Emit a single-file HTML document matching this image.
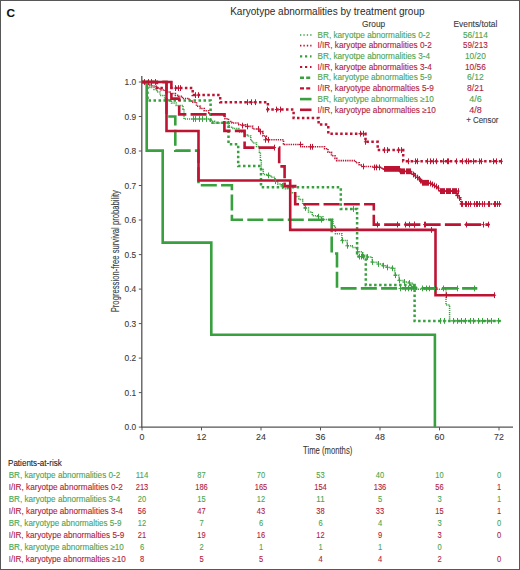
<!DOCTYPE html>
<html><head><meta charset="utf-8"><style>
html,body{margin:0;padding:0;background:#fff;}
body{width:520px;height:570px;overflow:hidden;}
svg{display:block;font-family:"Liberation Sans",sans-serif;}
text{stroke-width:0.1px;paint-order:stroke;}
</style></head><body>
<svg width="520" height="570" viewBox="0 0 520 570">
<rect x="0" y="0" width="520" height="570" fill="#fff"/>
<text x="6.6" y="16.6" font-size="11.8" font-weight="bold" fill="#111" stroke="#111">C</text>
<text x="230.2" y="15.2" font-size="10" fill="#2a2a2a" stroke="#2a2a2a" style="stroke-width:0" textLength="194.4" lengthAdjust="spacingAndGlyphs">Karyotype abnormalities by treatment group</text><text x="362.1" y="27.4" font-size="8.5" fill="#3a3a3a" stroke="#3a3a3a" textLength="23.1" lengthAdjust="spacingAndGlyphs">Group</text><text x="475.4" y="27.4" font-size="8.5" fill="#3a3a3a" stroke="#3a3a3a" text-anchor="middle" textLength="43.7" lengthAdjust="spacingAndGlyphs">Events/total</text><line x1="300" y1="34.9" x2="311.5" y2="34.9" stroke="#38a03e" stroke-width="1.5" stroke-dasharray="1.3 2.1"/><text x="317.5" y="37.6" font-size="8.2" fill="#48a450" stroke="#48a450" textLength="112.5" lengthAdjust="spacingAndGlyphs">BR, karyotpe abnormalities 0-2</text><text x="475.4" y="37.6" font-size="8.5" fill="#48a450" stroke="#48a450" text-anchor="middle" textLength="24.9" lengthAdjust="spacingAndGlyphs">56/114</text><line x1="300" y1="45.6" x2="311.5" y2="45.6" stroke="#bd1434" stroke-width="1.6" stroke-dasharray="1.4 2.0"/><text x="317.5" y="48.3" font-size="8.2" fill="#b01a3a" stroke="#b01a3a" textLength="114.3" lengthAdjust="spacingAndGlyphs">I/IR, karyotpe abnormalities 0-2</text><text x="475.4" y="48.3" font-size="8.5" fill="#b01a3a" stroke="#b01a3a" text-anchor="middle" textLength="24.9" lengthAdjust="spacingAndGlyphs">59/213</text><line x1="300" y1="56.3" x2="311.5" y2="56.3" stroke="#38a03e" stroke-width="2.2" stroke-dasharray="2.2 2.8"/><text x="317.5" y="59.0" font-size="8.2" fill="#48a450" stroke="#48a450" textLength="112.5" lengthAdjust="spacingAndGlyphs">BR, karyotpe abnormalities 3-4</text><text x="475.4" y="59.0" font-size="8.5" fill="#48a450" stroke="#48a450" text-anchor="middle" textLength="20.8" lengthAdjust="spacingAndGlyphs">10/20</text><line x1="300" y1="67.0" x2="311.5" y2="67.0" stroke="#bd1434" stroke-width="2.2" stroke-dasharray="2.2 2.8"/><text x="317.5" y="69.7" font-size="8.2" fill="#b01a3a" stroke="#b01a3a" textLength="114.3" lengthAdjust="spacingAndGlyphs">I/IR, karyotpe abnormalities 3-4</text><text x="475.4" y="69.7" font-size="8.5" fill="#b01a3a" stroke="#b01a3a" text-anchor="middle" textLength="20.8" lengthAdjust="spacingAndGlyphs">10/56</text><line x1="300" y1="77.7" x2="311.5" y2="77.7" stroke="#38a03e" stroke-width="2.4" stroke-dasharray="4 2.2"/><text x="317.5" y="80.4" font-size="8.2" fill="#48a450" stroke="#48a450" textLength="114.3" lengthAdjust="spacingAndGlyphs">BR, karyotype abnormalties 5-9</text><text x="475.4" y="80.4" font-size="8.5" fill="#48a450" stroke="#48a450" text-anchor="middle" textLength="16.6" lengthAdjust="spacingAndGlyphs">6/12</text><line x1="300" y1="88.4" x2="311.5" y2="88.4" stroke="#bd1434" stroke-width="2.4" stroke-dasharray="4 2.2"/><text x="317.5" y="91.1" font-size="8.2" fill="#b01a3a" stroke="#b01a3a" textLength="116.3" lengthAdjust="spacingAndGlyphs">I/IR, karyotype abnormalties 5-9</text><text x="475.4" y="91.1" font-size="8.5" fill="#b01a3a" stroke="#b01a3a" text-anchor="middle" textLength="16.6" lengthAdjust="spacingAndGlyphs">8/21</text><line x1="300" y1="99.1" x2="311.5" y2="99.1" stroke="#38a03e" stroke-width="2.6"/><text x="317.5" y="101.8" font-size="8.2" fill="#48a450" stroke="#48a450" textLength="116.3" lengthAdjust="spacingAndGlyphs">BR, karyotype abnormalties ≥10</text><text x="475.4" y="101.8" font-size="8.5" fill="#48a450" stroke="#48a450" text-anchor="middle" textLength="12.5" lengthAdjust="spacingAndGlyphs">4/6</text><line x1="300" y1="109.8" x2="311.5" y2="109.8" stroke="#bd1434" stroke-width="2.6"/><text x="317.5" y="112.5" font-size="8.2" fill="#b01a3a" stroke="#b01a3a" textLength="118.4" lengthAdjust="spacingAndGlyphs">I/IR, karyotype abnormalties ≥10</text><text x="475.4" y="112.5" font-size="8.5" fill="#b01a3a" stroke="#b01a3a" text-anchor="middle" textLength="12.5" lengthAdjust="spacingAndGlyphs">4/8</text><text x="466.2" y="122.5" font-size="8.5" fill="#3a3a3a" stroke="#3a3a3a" textLength="32.3" lengthAdjust="spacingAndGlyphs">+ Censor</text>
<line x1="141.8" y1="76" x2="141.8" y2="427.6" stroke="#555555" stroke-width="1.3"/><line x1="141.2" y1="427.1" x2="513" y2="427.1" stroke="#555555" stroke-width="1.3"/><line x1="138.8" y1="427.1" x2="141.8" y2="427.1" stroke="#555555" stroke-width="1"/><text x="136.2" y="430.2" text-anchor="end" font-size="8.8" fill="#3a3a3a" stroke="#3a3a3a" textLength="11.6" lengthAdjust="spacingAndGlyphs">0.0</text><line x1="138.8" y1="392.6" x2="141.8" y2="392.6" stroke="#555555" stroke-width="1"/><text x="136.2" y="395.7" text-anchor="end" font-size="8.8" fill="#3a3a3a" stroke="#3a3a3a" textLength="11.6" lengthAdjust="spacingAndGlyphs">0.1</text><line x1="138.8" y1="358.1" x2="141.8" y2="358.1" stroke="#555555" stroke-width="1"/><text x="136.2" y="361.2" text-anchor="end" font-size="8.8" fill="#3a3a3a" stroke="#3a3a3a" textLength="11.6" lengthAdjust="spacingAndGlyphs">0.2</text><line x1="138.8" y1="323.6" x2="141.8" y2="323.6" stroke="#555555" stroke-width="1"/><text x="136.2" y="326.7" text-anchor="end" font-size="8.8" fill="#3a3a3a" stroke="#3a3a3a" textLength="11.6" lengthAdjust="spacingAndGlyphs">0.3</text><line x1="138.8" y1="289.1" x2="141.8" y2="289.1" stroke="#555555" stroke-width="1"/><text x="136.2" y="292.2" text-anchor="end" font-size="8.8" fill="#3a3a3a" stroke="#3a3a3a" textLength="11.6" lengthAdjust="spacingAndGlyphs">0.4</text><line x1="138.8" y1="254.6" x2="141.8" y2="254.6" stroke="#555555" stroke-width="1"/><text x="136.2" y="257.7" text-anchor="end" font-size="8.8" fill="#3a3a3a" stroke="#3a3a3a" textLength="11.6" lengthAdjust="spacingAndGlyphs">0.5</text><line x1="138.8" y1="220.0" x2="141.8" y2="220.0" stroke="#555555" stroke-width="1"/><text x="136.2" y="223.1" text-anchor="end" font-size="8.8" fill="#3a3a3a" stroke="#3a3a3a" textLength="11.6" lengthAdjust="spacingAndGlyphs">0.6</text><line x1="138.8" y1="185.5" x2="141.8" y2="185.5" stroke="#555555" stroke-width="1"/><text x="136.2" y="188.6" text-anchor="end" font-size="8.8" fill="#3a3a3a" stroke="#3a3a3a" textLength="11.6" lengthAdjust="spacingAndGlyphs">0.7</text><line x1="138.8" y1="151.0" x2="141.8" y2="151.0" stroke="#555555" stroke-width="1"/><text x="136.2" y="154.1" text-anchor="end" font-size="8.8" fill="#3a3a3a" stroke="#3a3a3a" textLength="11.6" lengthAdjust="spacingAndGlyphs">0.8</text><line x1="138.8" y1="116.5" x2="141.8" y2="116.5" stroke="#555555" stroke-width="1"/><text x="136.2" y="119.6" text-anchor="end" font-size="8.8" fill="#3a3a3a" stroke="#3a3a3a" textLength="11.6" lengthAdjust="spacingAndGlyphs">0.9</text><line x1="138.8" y1="82.0" x2="141.8" y2="82.0" stroke="#555555" stroke-width="1"/><text x="136.2" y="85.1" text-anchor="end" font-size="8.8" fill="#3a3a3a" stroke="#3a3a3a" textLength="11.6" lengthAdjust="spacingAndGlyphs">1.0</text><line x1="142.0" y1="427.1" x2="142.0" y2="430.4" stroke="#555555" stroke-width="1"/><text x="142.0" y="440" text-anchor="middle" font-size="8.8" fill="#3a3a3a" stroke="#3a3a3a">0</text><line x1="201.5" y1="427.1" x2="201.5" y2="430.4" stroke="#555555" stroke-width="1"/><text x="201.5" y="440" text-anchor="middle" font-size="8.8" fill="#3a3a3a" stroke="#3a3a3a">12</text><line x1="261.0" y1="427.1" x2="261.0" y2="430.4" stroke="#555555" stroke-width="1"/><text x="261.0" y="440" text-anchor="middle" font-size="8.8" fill="#3a3a3a" stroke="#3a3a3a">24</text><line x1="320.5" y1="427.1" x2="320.5" y2="430.4" stroke="#555555" stroke-width="1"/><text x="320.5" y="440" text-anchor="middle" font-size="8.8" fill="#3a3a3a" stroke="#3a3a3a">36</text><line x1="380.0" y1="427.1" x2="380.0" y2="430.4" stroke="#555555" stroke-width="1"/><text x="380.0" y="440" text-anchor="middle" font-size="8.8" fill="#3a3a3a" stroke="#3a3a3a">48</text><line x1="439.5" y1="427.1" x2="439.5" y2="430.4" stroke="#555555" stroke-width="1"/><text x="439.5" y="440" text-anchor="middle" font-size="8.8" fill="#3a3a3a" stroke="#3a3a3a">60</text><line x1="499.0" y1="427.1" x2="499.0" y2="430.4" stroke="#555555" stroke-width="1"/><text x="499.0" y="440" text-anchor="middle" font-size="8.8" fill="#3a3a3a" stroke="#3a3a3a">72</text><text x="327.7" y="453.5" text-anchor="middle" font-size="10" fill="#3a3a3a" stroke="#3a3a3a" textLength="49.2" lengthAdjust="spacingAndGlyphs">Time (months)</text><text transform="translate(118.8,251.2) rotate(-90)" text-anchor="middle" font-size="10" fill="#3a3a3a" stroke="#3a3a3a" textLength="122.3" lengthAdjust="spacingAndGlyphs">Progression-free survival probability</text>
<polyline points="142.0,82.0 146.0,82.0 146.0,83.0 149.0,83.0 149.0,84.5 152.0,84.5 152.0,86.0 156.0,86.0 156.0,88.0 160.0,88.0 160.0,90.0 165.0,90.0 165.0,92.0 170.0,92.0 170.0,93.5 175.4,93.5 175.4,95.4 178.5,95.4 178.5,96.2 182.3,96.2 182.3,98.5 189.2,98.5 189.2,100.8 191.8,100.8 191.8,102.3 196.5,102.3 196.5,106.2 200.3,106.2 200.3,108.5 204.2,108.5 204.2,110.8 208.8,110.8 208.8,113.0 210.0,113.0 210.0,114.2 223.8,114.2 223.8,114.4 225.0,114.4 225.0,118.7 228.5,118.7 228.5,121.5 232.0,121.5 232.0,123.0 238.8,123.0 238.8,124.7 245.7,124.7 245.7,126.4 252.7,126.4 252.7,129.0 259.6,129.0 259.6,131.6 263.0,131.6 263.0,136.0 266.3,136.0 266.3,139.8 281.5,139.8 281.5,139.8 283.5,139.8 283.5,143.7 284.5,143.7 284.5,144.5 302.0,144.5 302.0,144.5 302.5,144.5 302.5,146.8 322.9,146.8 322.9,146.8 324.6,146.8 324.6,148.8 328.0,148.8 328.0,152.3 331.5,152.3 331.5,155.8 335.0,155.8 335.0,158.4 336.7,158.4 336.7,160.6 354.0,160.6 354.0,160.6 355.7,160.6 355.7,162.7 359.2,162.7 359.2,164.8 361.0,164.8 361.0,166.5 380.0,166.5 380.0,167.4 382.0,167.4 382.0,169.2 399.0,169.2 399.0,169.2 399.5,169.2 399.5,172.1 410.4,172.1 410.4,172.1 411.7,172.1 411.7,173.5 414.4,173.5 414.4,176.5 418.5,176.5 418.5,179.5 421.5,179.5 421.5,182.5 428.5,182.5 428.5,183.0 431.9,183.0 431.9,184.5 434.6,184.5 434.6,186.0 436.0,186.0 436.0,187.5 438.5,187.5 438.5,189.0 439.0,189.0 439.0,191.1 456.2,191.1 456.2,191.1 456.5,191.1 456.5,195.4 459.2,195.4 459.2,197.7 460.8,197.7 460.8,201.5 461.0,201.5 461.0,204.0 502.0,204.0 502.0,204.0" fill="none" stroke="#bd1434" stroke-width="1.6" stroke-dasharray="1.3 0.9" stroke-linejoin="miter" stroke-linecap="butt" />
<polyline points="142.0,82.0 144.0,82.0 144.0,83.5 147.0,83.5 147.0,85.5 150.0,85.5 150.0,87.5 154.0,87.5 154.0,89.5 157.0,89.5 157.0,92.0 160.0,92.0 160.0,95.4 164.6,95.4 164.6,100.0 171.5,100.0 171.5,103.0 176.2,103.0 176.2,105.4 183.0,105.4 183.0,109.2 184.0,109.2 184.0,119.0 207.7,119.0 207.7,119.0 210.3,119.0 210.3,121.2 214.6,121.2 214.6,123.0 228.4,123.0 228.4,123.8 229.3,123.8 229.3,127.3 233.0,127.3 233.0,128.5 238.8,128.5 238.8,132.0 244.6,132.0 244.6,135.0 247.5,135.0 247.5,136.0 250.8,136.0 250.8,140.8 252.7,140.8 252.7,142.9 256.5,142.9 256.5,146.5 259.4,146.5 259.4,152.3 260.4,152.3 260.4,160.0 261.3,160.0 261.3,169.6 263.3,169.6 263.3,174.4 268.0,174.4 268.0,175.4 271.0,175.4 271.0,177.3 274.8,177.3 274.8,181.2 277.7,181.2 277.7,184.0 281.5,184.0 281.5,186.0 285.4,186.0 285.4,188.8 290.2,188.8 290.2,192.7 295.0,192.7 295.0,196.5 298.8,196.5 298.8,199.4 302.7,199.4 302.7,204.2 304.6,204.2 304.6,208.0 308.5,208.0 308.5,212.0 312.3,212.0 312.3,215.8 318.0,215.8 318.0,216.7 322.9,216.7 322.9,219.6 330.0,219.6 330.0,219.6 333.0,219.6 333.0,226.0 335.4,226.0 335.4,233.7 341.9,233.7 341.9,240.6 347.1,240.6 347.1,245.8 352.3,245.8 352.3,247.5 357.5,247.5 357.5,251.8 362.7,251.8 362.7,255.3 367.0,255.3 367.0,257.0 372.2,257.0 372.2,262.2 378.3,262.2 378.3,264.0 382.6,264.0 382.6,265.7 386.9,265.7 386.9,267.4 392.1,267.4 392.1,268.3 394.7,268.3 394.7,275.2 399.0,275.2 399.0,280.4 404.2,280.4 404.2,282.1 409.4,282.1 409.4,283.0 412.9,283.0 412.9,287.3 416.3,287.3 416.3,289.2 445.8,289.2 445.8,289.2 446.0,289.2 446.0,304.9 449.6,304.9 449.6,305.0 449.6,305.0 449.6,320.8 500.8,320.8 500.8,320.8" fill="none" stroke="#38a03e" stroke-width="1.5" stroke-dasharray="1.2 0.9" stroke-linejoin="miter" stroke-linecap="butt" />
<polyline points="142.0,82.0 147.5,82.0 147.5,100.5 210.6,100.5 210.6,122.7 228.5,122.7 228.5,144.2 238.2,144.2 238.2,166.0 261.0,166.0 261.0,187.3 340.8,187.3 340.8,209.0 357.1,209.0 357.1,256.6 365.8,256.6 365.8,284.9 414.6,284.9 414.6,320.9 501.5,320.9" fill="none" stroke="#38a03e" stroke-width="2.5" stroke-dasharray="2.5 2.5" stroke-linejoin="miter" stroke-linecap="butt" />
<polyline points="142.0,82.0 157.0,82.0 157.0,88.1 192.7,88.1 192.7,95.1 220.2,95.1 220.2,102.2 267.9,102.2 267.9,109.5 293.6,109.5 293.6,118.1 318.6,118.1 318.6,124.6 328.3,124.6 328.3,133.7 365.5,133.7 365.5,141.8 377.7,141.8 377.7,150.1 403.2,150.1 403.2,161.3 502.4,161.3" fill="none" stroke="#bd1434" stroke-width="2.5" stroke-dasharray="2.5 2.4" stroke-linejoin="miter" stroke-linecap="butt" />
<polyline points="142.0,82.0 166.5,82.0 166.5,116.5 175.3,116.5 175.3,150.6 198.5,150.6 198.5,185.2 231.9,185.2 231.9,219.7 331.7,219.7 331.7,253.5 337.0,253.5 337.0,288.4 477.3,288.4" fill="none" stroke="#38a03e" stroke-width="2.6" stroke-dasharray="16 4.25" stroke-linejoin="miter" stroke-linecap="butt" />
<polyline points="142.0,82.0 171.4,82.0 171.4,98.6 179.2,98.6 179.2,114.4 224.4,114.4 224.4,130.9 244.6,130.9 244.6,147.6 279.2,147.6 279.2,166.4 284.6,166.4 284.6,186.1 295.2,186.1 295.2,204.2 373.8,204.2 373.8,224.6 489.3,224.6" fill="none" stroke="#bd1434" stroke-width="2.6" stroke-dasharray="16 4.25" stroke-linejoin="miter" stroke-linecap="butt" />
<polyline points="142.0,82.0 146.7,82.0 146.7,150.6 162.7,150.6 162.7,242.6 211.3,242.6 211.3,334.8 434.9,334.8 434.9,427.0" fill="none" stroke="#38a03e" stroke-width="2.6" stroke-linejoin="miter" stroke-linecap="butt" />
<polyline points="142.0,82.0 166.5,82.0 166.5,131.0 198.5,131.0 198.5,180.5 290.2,180.5 290.2,229.9 435.5,229.9 435.5,295.2 494.6,295.2" fill="none" stroke="#bd1434" stroke-width="2.6" stroke-linejoin="miter" stroke-linecap="butt" />
<path d="M144.5 79.1V84.9M142.9 82.0H146.3M148.5 79.1V84.9M147.0 82.0H150.4M151.5 79.1V84.9M149.8 82.0H153.2M155.5 79.1V84.9M153.3 82.0H156.7M175.5 85.2V91.0M173.8 88.1H177.2M178.5 85.2V91.0M176.6 88.1H180.0M180.5 85.2V91.0M178.7 88.1H182.1M195.5 92.2V98.0M193.6 95.1H197.0M198.5 92.2V98.0M197.0 95.1H200.4M247.5 99.3V105.1M246.0 102.2H249.4M251.5 99.3V105.1M249.8 102.2H253.2M255.5 99.3V105.1M253.3 102.2H256.7M267.5 106.6V112.4M266.2 109.5H269.6M276.5 106.6V112.4M274.8 109.5H278.2M280.5 106.6V112.4M278.7 109.5H282.1M360.5 130.8V136.6M358.5 133.7H361.9M363.5 130.8V136.6M361.9 133.7H365.3M365.5 138.9V144.7M363.9 141.8H367.3M384.5 147.2V153.0M382.7 150.1H386.1M387.5 147.2V153.0M386.1 150.1H389.5M398.5 147.2V153.0M396.5 150.1H399.9M401.5 147.2V153.0M399.6 150.1H403.0M408.5 158.4V164.2M406.4 161.3H409.8M415.5 158.4V164.2M413.3 161.3H416.7M417.5 158.4V164.2M416.2 161.3H419.6M427.5 158.4V164.2M426.0 161.3H429.4M430.5 158.4V164.2M429.1 161.3H432.5M433.5 158.4V164.2M431.8 161.3H435.2M436.5 158.4V164.2M435.2 161.3H438.6M443.5 158.4V164.2M442.1 161.3H445.5M447.5 158.4V164.2M445.7 161.3H449.1M448.5 158.4V164.2M446.8 161.3H450.2M456.5 158.4V164.2M454.5 161.3H457.9M462.5 158.4V164.2M460.5 161.3H463.9M466.5 158.4V164.2M465.2 161.3H468.6M468.5 158.4V164.2M467.2 161.3H470.6M473.5 158.4V164.2M471.9 161.3H475.3M479.5 158.4V164.2M477.3 161.3H480.7M481.5 158.4V164.2M480.0 161.3H483.4M493.5 158.4V164.2M491.5 161.3H494.9M496.5 158.4V164.2M494.8 161.3H498.2M501.5 158.4V164.2M499.5 161.3H502.9M242.5 122.7V128.5M241.2 125.6H244.6M247.5 123.5V129.3M246.0 126.4H249.4M258.5 126.1V131.9M256.6 129.0H260.0M260.5 128.7V134.5M258.5 131.6H261.9M265.5 136.9V142.7M263.3 139.8H266.7M268.5 136.9V142.7M266.3 139.8H269.7M300.5 141.6V147.4M298.7 144.5H302.1M310.5 143.9V149.7M309.1 146.8H312.5M312.5 143.9V149.7M310.8 146.8H314.2M363.5 163.6V169.4M361.8 166.5H365.2M374.5 164.5V170.3M372.3 167.4H375.7M376.5 164.5V170.3M375.0 167.4H378.4M379.5 164.5V170.3M377.7 167.4H381.1M384.5 166.0V171.8M382.5 168.9H385.9M385.5 166.0V171.8M383.5 168.9H386.9M386.5 166.0V171.8M384.5 168.9H387.9M387.5 166.0V171.8M385.5 168.9H388.9M388.5 166.0V171.8M386.5 168.9H389.9M389.5 166.0V171.8M387.5 168.9H390.9M390.5 166.0V171.8M388.5 168.9H391.9M391.5 166.0V171.8M389.5 168.9H392.9M392.5 166.0V171.8M390.5 168.9H393.9M393.5 166.0V171.8M391.5 168.9H394.9M394.5 166.0V171.8M392.5 168.9H395.9M395.5 166.0V171.8M393.5 168.9H396.9M396.5 166.0V171.8M394.5 168.9H397.9M397.5 166.0V171.8M395.5 168.9H398.9M398.5 166.0V171.8M396.5 168.9H399.9M399.5 166.0V171.8M397.5 168.9H400.9M400.5 168.4V174.2M398.8 171.3H402.2M401.5 168.4V174.2M399.9 171.3H403.3M402.5 168.4V174.2M401.0 171.3H404.4M403.5 168.4V174.2M402.1 171.3H405.5M404.5 168.4V174.2M403.2 171.3H406.6M406.5 168.4V174.2M404.3 171.3H407.7M407.5 168.4V174.2M405.4 171.3H408.8M408.5 168.4V174.2M406.5 171.3H409.9M409.5 168.4V174.2M407.6 171.3H411.0M410.5 168.4V174.2M408.7 171.3H412.1M413.5 171.6V177.4M411.3 174.5H414.7M415.5 173.1V178.9M413.3 176.0H416.7M417.5 174.6V180.4M415.3 177.5H418.7M419.5 176.1V181.9M417.3 179.0H420.7M420.5 177.6V183.4M418.8 180.5H422.2M422.5 179.9V185.7M420.3 182.8H423.7M423.5 179.9V185.7M421.3 182.8H424.7M424.5 179.9V185.7M422.3 182.8H425.7M425.5 179.9V185.7M423.3 182.8H426.7M426.5 179.9V185.7M424.3 182.8H427.7M427.5 179.9V185.7M425.3 182.8H428.7M428.5 179.9V185.7M426.3 182.8H429.7M430.5 180.6V186.4M428.3 183.5H431.7M432.5 181.6V187.4M430.3 184.5H433.7M434.5 182.6V188.4M432.3 185.5H435.7M436.5 183.6V189.4M434.3 186.5H437.7M438.5 185.1V190.9M436.3 188.0H439.7M440.5 188.2V194.0M438.3 191.1H441.7M441.5 188.2V194.0M439.5 191.1H442.9M442.5 188.2V194.0M440.7 191.1H444.1M443.5 188.2V194.0M441.9 191.1H445.3M444.5 188.2V194.0M443.1 191.1H446.5M446.5 188.2V194.0M444.3 191.1H447.7M447.5 188.2V194.0M445.5 191.1H448.9M448.5 188.2V194.0M446.7 191.1H450.1M449.5 188.2V194.0M447.9 191.1H451.3M450.5 188.2V194.0M449.1 191.1H452.5M452.5 188.2V194.0M450.3 191.1H453.7M453.5 188.2V194.0M451.5 191.1H454.9M454.5 188.2V194.0M452.7 191.1H456.1M455.5 188.2V194.0M453.9 191.1H457.3M456.5 188.2V194.0M455.1 191.1H458.5M458.5 188.2V194.0M456.3 191.1H459.7M457.5 192.5V198.3M455.3 195.4H458.7M459.5 195.1V200.9M457.5 198.0H460.9M461.5 201.1V206.9M459.6 204.0H463.0M462.5 201.1V206.9M461.2 204.0H464.6M465.5 201.1V206.9M463.3 204.0H466.7M466.5 201.1V206.9M464.9 204.0H468.3M468.5 201.1V206.9M467.1 204.0H470.5M470.5 201.1V206.9M469.2 204.0H472.6M474.5 201.1V206.9M472.9 204.0H476.3M476.5 201.1V206.9M474.5 204.0H477.9M477.5 201.1V206.9M476.1 204.0H479.5M479.5 201.1V206.9M478.2 204.0H481.6M482.5 201.1V206.9M480.3 204.0H483.7M484.5 201.1V206.9M482.4 204.0H485.8M488.5 201.1V206.9M486.6 204.0H490.0M489.5 201.1V206.9M488.2 204.0H491.6M494.5 201.1V206.9M492.5 204.0H495.9M495.5 201.1V206.9M494.0 204.0H497.4M497.5 201.1V206.9M495.6 204.0H499.0M499.5 201.1V206.9M497.7 204.0H501.1M274.5 144.7V150.5M272.7 147.6H276.1M377.5 221.7V227.5M375.3 224.6H378.7M397.5 221.7V227.5M395.4 224.6H398.8M405.5 221.7V227.5M403.9 224.6H407.3M409.5 221.7V227.5M408.1 224.6H411.5M414.5 221.7V227.5M412.3 224.6H415.7M414.5 221.7V227.5M412.5 224.6H415.9M424.5 221.7V227.5M423.1 224.6H426.5M425.5 221.7V227.5M424.0 224.6H427.4M466.5 221.7V227.5M464.3 224.6H467.7M483.5 221.7V227.5M481.3 224.6H484.7M488.5 221.7V227.5M486.6 224.6H490.0M431.5 227.0V232.8M429.3 229.9H432.7M446.5 292.3V298.1M444.3 295.2H447.7M494.5 292.3V298.1M492.7 295.2H496.1" stroke="#bd1434" stroke-width="1.0" fill="none"/>
<path d="M193.5 116.1V121.9M191.3 119.0H194.7M195.5 116.1V121.9M193.9 119.0H197.3M199.5 116.1V121.9M197.3 119.0H200.7M202.5 116.1V121.9M200.8 119.0H204.2M206.5 116.1V121.9M204.3 119.0H207.7M268.5 172.5V178.3M266.3 175.4H269.7M275.5 178.3V184.1M273.3 181.2H276.7M282.5 183.1V188.9M280.3 186.0H283.7M305.5 205.1V210.9M303.3 208.0H306.7M318.5 213.8V219.6M316.3 216.7H319.7M321.5 216.8V222.6M319.8 219.7H323.2M342.5 237.7V243.5M340.3 240.6H343.7M347.5 242.9V248.7M345.3 245.8H348.7M357.5 248.9V254.7M355.8 251.8H359.2M362.5 252.4V258.2M361.0 255.3H364.4M367.5 254.1V259.9M365.3 257.0H368.7M372.5 259.1V264.9M370.3 262.0H373.7M378.5 261.1V266.9M376.3 264.0H379.7M383.5 262.8V268.6M381.3 265.7H384.7M387.5 264.5V270.3M385.3 267.4H388.7M392.5 265.4V271.2M390.3 268.3H393.7M395.5 272.3V278.1M393.3 275.2H396.7M399.5 277.5V283.3M397.3 280.4H400.7M404.5 279.1V284.9M402.3 282.0H405.7M409.5 280.1V285.9M407.3 283.0H410.7M413.5 284.1V289.9M411.3 287.0H414.7M353.5 206.1V211.9M352.0 209.0H355.4M359.5 253.7V259.5M357.3 256.6H360.7M361.5 253.7V259.5M359.3 256.6H362.7M363.5 253.7V259.5M361.3 256.6H364.7M400.5 285.5V291.3M398.6 288.4H402.0M405.5 285.5V291.3M403.9 288.4H407.3M408.5 285.5V291.3M407.1 288.4H410.5M411.5 285.5V291.3M410.2 288.4H413.6M422.5 285.5V291.3M420.8 288.4H424.2M426.5 285.5V291.3M425.0 288.4H428.4M429.5 285.5V291.3M428.2 288.4H431.6M434.5 285.5V291.3M432.4 288.4H435.8M443.5 285.5V291.3M442.0 288.4H445.4M457.5 285.5V291.3M455.7 288.4H459.1M474.5 285.5V291.3M472.6 288.4H476.0M440.5 318.0V323.8M438.8 320.9H442.2M444.5 318.0V323.8M443.0 320.9H446.4M453.5 318.0V323.8M451.5 320.9H454.9M457.5 318.0V323.8M455.7 320.9H459.1M461.5 318.0V323.8M459.9 320.9H463.3M465.5 318.0V323.8M464.2 320.9H467.6M470.5 318.0V323.8M468.4 320.9H471.8M473.5 318.0V323.8M471.6 320.9H475.0M478.5 318.0V323.8M476.9 320.9H480.3M482.5 318.0V323.8M481.1 320.9H484.5M487.5 318.0V323.8M485.3 320.9H488.7M491.5 318.0V323.8M489.6 320.9H493.0M498.5 318.0V323.8M497.0 320.9H500.4" stroke="#38a03e" stroke-width="1.0" fill="none"/>

<text x="8" y="466" font-size="8.7" fill="#222" stroke="#222" textLength="53.8" lengthAdjust="spacingAndGlyphs">Patients-at-risk</text><text x="8.7" y="477.8" font-size="8.2" fill="#48a450" stroke="#48a450" textLength="111.5" lengthAdjust="spacingAndGlyphs">BR, karyotpe abnormalities 0-2</text><text x="142.0" y="477.8" font-size="8.5" fill="#48a450" stroke="#48a450" text-anchor="middle" textLength="12.5" lengthAdjust="spacingAndGlyphs">114</text><text x="201.5" y="477.8" font-size="8.5" fill="#48a450" stroke="#48a450" text-anchor="middle" textLength="8.3" lengthAdjust="spacingAndGlyphs">87</text><text x="261.0" y="477.8" font-size="8.5" fill="#48a450" stroke="#48a450" text-anchor="middle" textLength="8.3" lengthAdjust="spacingAndGlyphs">70</text><text x="320.5" y="477.8" font-size="8.5" fill="#48a450" stroke="#48a450" text-anchor="middle" textLength="8.3" lengthAdjust="spacingAndGlyphs">53</text><text x="380.0" y="477.8" font-size="8.5" fill="#48a450" stroke="#48a450" text-anchor="middle" textLength="8.3" lengthAdjust="spacingAndGlyphs">40</text><text x="439.5" y="477.8" font-size="8.5" fill="#48a450" stroke="#48a450" text-anchor="middle" textLength="8.3" lengthAdjust="spacingAndGlyphs">10</text><text x="499.0" y="477.8" font-size="8.5" fill="#48a450" stroke="#48a450" text-anchor="middle" textLength="4.2" lengthAdjust="spacingAndGlyphs">0</text><text x="8.7" y="489.8" font-size="8.2" fill="#b01a3a" stroke="#b01a3a" textLength="114.1" lengthAdjust="spacingAndGlyphs">I/IR, karyotpe abnormalities 0-2</text><text x="142.0" y="489.8" font-size="8.5" fill="#b01a3a" stroke="#b01a3a" text-anchor="middle" textLength="12.5" lengthAdjust="spacingAndGlyphs">213</text><text x="201.5" y="489.8" font-size="8.5" fill="#b01a3a" stroke="#b01a3a" text-anchor="middle" textLength="12.5" lengthAdjust="spacingAndGlyphs">186</text><text x="261.0" y="489.8" font-size="8.5" fill="#b01a3a" stroke="#b01a3a" text-anchor="middle" textLength="12.5" lengthAdjust="spacingAndGlyphs">165</text><text x="320.5" y="489.8" font-size="8.5" fill="#b01a3a" stroke="#b01a3a" text-anchor="middle" textLength="12.5" lengthAdjust="spacingAndGlyphs">154</text><text x="380.0" y="489.8" font-size="8.5" fill="#b01a3a" stroke="#b01a3a" text-anchor="middle" textLength="12.5" lengthAdjust="spacingAndGlyphs">136</text><text x="439.5" y="489.8" font-size="8.5" fill="#b01a3a" stroke="#b01a3a" text-anchor="middle" textLength="8.3" lengthAdjust="spacingAndGlyphs">56</text><text x="499.0" y="489.8" font-size="8.5" fill="#b01a3a" stroke="#b01a3a" text-anchor="middle" textLength="4.2" lengthAdjust="spacingAndGlyphs">1</text><text x="8.7" y="501.8" font-size="8.2" fill="#48a450" stroke="#48a450" textLength="111.5" lengthAdjust="spacingAndGlyphs">BR, karyotpe abnormalities 3-4</text><text x="142.0" y="501.8" font-size="8.5" fill="#48a450" stroke="#48a450" text-anchor="middle" textLength="8.3" lengthAdjust="spacingAndGlyphs">20</text><text x="201.5" y="501.8" font-size="8.5" fill="#48a450" stroke="#48a450" text-anchor="middle" textLength="8.3" lengthAdjust="spacingAndGlyphs">15</text><text x="261.0" y="501.8" font-size="8.5" fill="#48a450" stroke="#48a450" text-anchor="middle" textLength="8.3" lengthAdjust="spacingAndGlyphs">12</text><text x="320.5" y="501.8" font-size="8.5" fill="#48a450" stroke="#48a450" text-anchor="middle" textLength="8.3" lengthAdjust="spacingAndGlyphs">11</text><text x="380.0" y="501.8" font-size="8.5" fill="#48a450" stroke="#48a450" text-anchor="middle" textLength="4.2" lengthAdjust="spacingAndGlyphs">5</text><text x="439.5" y="501.8" font-size="8.5" fill="#48a450" stroke="#48a450" text-anchor="middle" textLength="4.2" lengthAdjust="spacingAndGlyphs">3</text><text x="499.0" y="501.8" font-size="8.5" fill="#48a450" stroke="#48a450" text-anchor="middle" textLength="4.2" lengthAdjust="spacingAndGlyphs">1</text><text x="8.7" y="513.8" font-size="8.2" fill="#b01a3a" stroke="#b01a3a" textLength="114.1" lengthAdjust="spacingAndGlyphs">I/IR, karyotpe abnormalities 3-4</text><text x="142.0" y="513.8" font-size="8.5" fill="#b01a3a" stroke="#b01a3a" text-anchor="middle" textLength="8.3" lengthAdjust="spacingAndGlyphs">56</text><text x="201.5" y="513.8" font-size="8.5" fill="#b01a3a" stroke="#b01a3a" text-anchor="middle" textLength="8.3" lengthAdjust="spacingAndGlyphs">47</text><text x="261.0" y="513.8" font-size="8.5" fill="#b01a3a" stroke="#b01a3a" text-anchor="middle" textLength="8.3" lengthAdjust="spacingAndGlyphs">43</text><text x="320.5" y="513.8" font-size="8.5" fill="#b01a3a" stroke="#b01a3a" text-anchor="middle" textLength="8.3" lengthAdjust="spacingAndGlyphs">38</text><text x="380.0" y="513.8" font-size="8.5" fill="#b01a3a" stroke="#b01a3a" text-anchor="middle" textLength="8.3" lengthAdjust="spacingAndGlyphs">33</text><text x="439.5" y="513.8" font-size="8.5" fill="#b01a3a" stroke="#b01a3a" text-anchor="middle" textLength="8.3" lengthAdjust="spacingAndGlyphs">15</text><text x="499.0" y="513.8" font-size="8.5" fill="#b01a3a" stroke="#b01a3a" text-anchor="middle" textLength="4.2" lengthAdjust="spacingAndGlyphs">1</text><text x="8.7" y="525.8" font-size="8.2" fill="#48a450" stroke="#48a450" textLength="112.8" lengthAdjust="spacingAndGlyphs">BR, karyotype abnormalties 5-9</text><text x="142.0" y="525.8" font-size="8.5" fill="#48a450" stroke="#48a450" text-anchor="middle" textLength="8.3" lengthAdjust="spacingAndGlyphs">12</text><text x="201.5" y="525.8" font-size="8.5" fill="#48a450" stroke="#48a450" text-anchor="middle" textLength="4.2" lengthAdjust="spacingAndGlyphs">7</text><text x="261.0" y="525.8" font-size="8.5" fill="#48a450" stroke="#48a450" text-anchor="middle" textLength="4.2" lengthAdjust="spacingAndGlyphs">6</text><text x="320.5" y="525.8" font-size="8.5" fill="#48a450" stroke="#48a450" text-anchor="middle" textLength="4.2" lengthAdjust="spacingAndGlyphs">6</text><text x="380.0" y="525.8" font-size="8.5" fill="#48a450" stroke="#48a450" text-anchor="middle" textLength="4.2" lengthAdjust="spacingAndGlyphs">4</text><text x="439.5" y="525.8" font-size="8.5" fill="#48a450" stroke="#48a450" text-anchor="middle" textLength="4.2" lengthAdjust="spacingAndGlyphs">3</text><text x="499.0" y="525.8" font-size="8.5" fill="#48a450" stroke="#48a450" text-anchor="middle" textLength="4.2" lengthAdjust="spacingAndGlyphs">0</text><text x="8.7" y="537.8" font-size="8.2" fill="#b01a3a" stroke="#b01a3a" textLength="115.5" lengthAdjust="spacingAndGlyphs">I/IR, karyotype abnormalties 5-9</text><text x="142.0" y="537.8" font-size="8.5" fill="#b01a3a" stroke="#b01a3a" text-anchor="middle" textLength="8.3" lengthAdjust="spacingAndGlyphs">21</text><text x="201.5" y="537.8" font-size="8.5" fill="#b01a3a" stroke="#b01a3a" text-anchor="middle" textLength="8.3" lengthAdjust="spacingAndGlyphs">19</text><text x="261.0" y="537.8" font-size="8.5" fill="#b01a3a" stroke="#b01a3a" text-anchor="middle" textLength="8.3" lengthAdjust="spacingAndGlyphs">16</text><text x="320.5" y="537.8" font-size="8.5" fill="#b01a3a" stroke="#b01a3a" text-anchor="middle" textLength="8.3" lengthAdjust="spacingAndGlyphs">12</text><text x="380.0" y="537.8" font-size="8.5" fill="#b01a3a" stroke="#b01a3a" text-anchor="middle" textLength="4.2" lengthAdjust="spacingAndGlyphs">9</text><text x="439.5" y="537.8" font-size="8.5" fill="#b01a3a" stroke="#b01a3a" text-anchor="middle" textLength="4.2" lengthAdjust="spacingAndGlyphs">3</text><text x="499.0" y="537.8" font-size="8.5" fill="#b01a3a" stroke="#b01a3a" text-anchor="middle" textLength="4.2" lengthAdjust="spacingAndGlyphs">0</text><text x="8.7" y="549.8" font-size="8.2" fill="#48a450" stroke="#48a450" textLength="115.2" lengthAdjust="spacingAndGlyphs">BR, karyotype abnormalties ≥10</text><text x="142.0" y="549.8" font-size="8.5" fill="#48a450" stroke="#48a450" text-anchor="middle" textLength="4.2" lengthAdjust="spacingAndGlyphs">6</text><text x="201.5" y="549.8" font-size="8.5" fill="#48a450" stroke="#48a450" text-anchor="middle" textLength="4.2" lengthAdjust="spacingAndGlyphs">2</text><text x="261.0" y="549.8" font-size="8.5" fill="#48a450" stroke="#48a450" text-anchor="middle" textLength="4.2" lengthAdjust="spacingAndGlyphs">1</text><text x="320.5" y="549.8" font-size="8.5" fill="#48a450" stroke="#48a450" text-anchor="middle" textLength="4.2" lengthAdjust="spacingAndGlyphs">1</text><text x="380.0" y="549.8" font-size="8.5" fill="#48a450" stroke="#48a450" text-anchor="middle" textLength="4.2" lengthAdjust="spacingAndGlyphs">1</text><text x="439.5" y="549.8" font-size="8.5" fill="#48a450" stroke="#48a450" text-anchor="middle" textLength="4.2" lengthAdjust="spacingAndGlyphs">0</text><text x="8.7" y="561.8" font-size="8.2" fill="#b01a3a" stroke="#b01a3a" textLength="117.0" lengthAdjust="spacingAndGlyphs">I/IR, karyotype abnormalties ≥10</text><text x="142.0" y="561.8" font-size="8.5" fill="#b01a3a" stroke="#b01a3a" text-anchor="middle" textLength="4.2" lengthAdjust="spacingAndGlyphs">8</text><text x="201.5" y="561.8" font-size="8.5" fill="#b01a3a" stroke="#b01a3a" text-anchor="middle" textLength="4.2" lengthAdjust="spacingAndGlyphs">5</text><text x="261.0" y="561.8" font-size="8.5" fill="#b01a3a" stroke="#b01a3a" text-anchor="middle" textLength="4.2" lengthAdjust="spacingAndGlyphs">5</text><text x="320.5" y="561.8" font-size="8.5" fill="#b01a3a" stroke="#b01a3a" text-anchor="middle" textLength="4.2" lengthAdjust="spacingAndGlyphs">4</text><text x="380.0" y="561.8" font-size="8.5" fill="#b01a3a" stroke="#b01a3a" text-anchor="middle" textLength="4.2" lengthAdjust="spacingAndGlyphs">4</text><text x="439.5" y="561.8" font-size="8.5" fill="#b01a3a" stroke="#b01a3a" text-anchor="middle" textLength="4.2" lengthAdjust="spacingAndGlyphs">2</text><text x="499.0" y="561.8" font-size="8.5" fill="#b01a3a" stroke="#b01a3a" text-anchor="middle" textLength="4.2" lengthAdjust="spacingAndGlyphs">0</text>
<rect x="0.5" y="0.5" width="519" height="569" fill="none" stroke="#575757" stroke-width="1"/>
</svg>
</body></html>
